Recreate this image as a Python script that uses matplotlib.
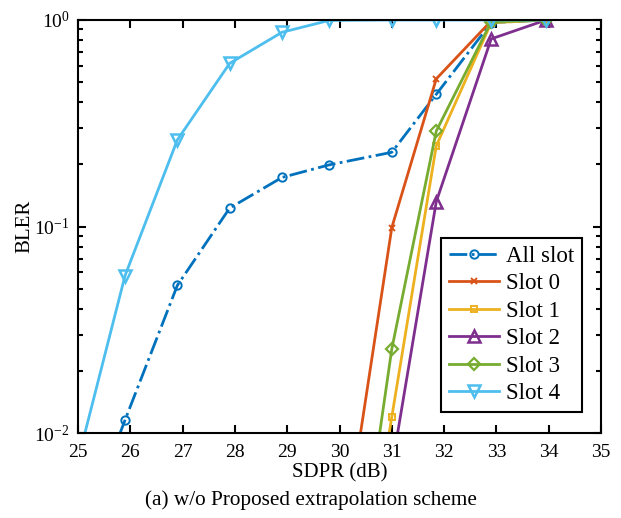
import numpy as np
import matplotlib
matplotlib.use("Agg")
import matplotlib.pyplot as plt
from matplotlib.ticker import LogLocator, NullFormatter

plt.rcParams["font.family"] = ["Liberation Serif", "DejaVu Serif"]
plt.rcParams["mathtext.fontset"] = "custom"
plt.rcParams["mathtext.rm"] = "Liberation Serif"
plt.rcParams["mathtext.it"] = "Liberation Serif:italic"

# SDPR points (dB); first point sits left of the visible range
sdpr_all = [24.9, 25.9, 26.9, 27.9, 28.9, 29.8, 31.0, 31.85, 32.9, 33.95]
bler_all = [0.0025, 0.0116, 0.052, 0.123, 0.173, 0.199, 0.229, 0.437, 0.97, 1.0]

sdpr_slot = [29.8, 31.0, 31.85, 32.9, 33.95]
bler_slot0 = [0.001, 0.099, 0.519, 0.99, 1.0]
bler_slot1 = [0.00017, 0.012, 0.246, 0.97, 1.0]
bler_slot2 = [0.00005, 0.0068, 0.132, 0.81, 1.0]
bler_slot3 = [0.0002, 0.0256, 0.290, 0.98, 1.0]

sdpr_slot4 = [24.9, 25.9, 26.9, 27.9, 28.9, 29.8, 31.0, 31.85, 32.9, 33.95]
bler_slot4 = [0.0059, 0.058, 0.263, 0.617, 0.872, 0.995, 1.0, 1.0, 1.0, 1.0]

fig = plt.figure(figsize=(6.21, 5.18), dpi=100)
ax = fig.add_axes([0.1256, 0.1635, 0.8422, 0.7979])

lw = 2.0
ax.plot(sdpr_all, bler_all, "-.o", color="#0072BD", lw=lw, ms=6, mew=1.4, mfc="none", label="All slot")
ax.plot(sdpr_slot, bler_slot0, "-x", color="#D95319", lw=lw, ms=5, mew=1.4, label="Slot 0")
ax.plot(sdpr_slot, bler_slot1, "-s", color="#EDB120", lw=lw, ms=5, mew=1.4, mfc="none", label="Slot 1")
ax.plot(sdpr_slot, bler_slot2, "-^", color="#7E2F8E", lw=lw, ms=8, mew=1.8, mfc="none", label="Slot 2")
ax.plot(sdpr_slot, bler_slot3, "-D", color="#77AC30", lw=lw, ms=6, mew=1.6, mfc="none", label="Slot 3")
ax.plot(sdpr_slot4, bler_slot4, "-v", color="#4DBEEE", lw=lw, ms=8, mew=1.8, mfc="none", label="Slot 4")

ax.set_yscale("log")
ax.set_xlim(25, 35)
ax.set_ylim(1e-2, 1)
ax.set_xticks(np.arange(25, 36, 1))
ax.yaxis.set_major_locator(LogLocator(base=10, numticks=5))
ax.yaxis.set_minor_locator(LogLocator(base=10, subs=np.arange(2, 10), numticks=10))
ax.yaxis.set_minor_formatter(NullFormatter())

ax.tick_params(which="both", direction="in", top=True, right=True, labelsize=14, width=1.5)
ax.tick_params(which="major", length=6, pad=6)
ax.tick_params(axis="x", which="major", pad=8)
ax.tick_params(which="minor", length=3.5)
for s in ax.spines.values():
    s.set_linewidth(1.5)

ax.set_xlabel("SDPR (dB)", fontsize=15, labelpad=1)
ax.set_ylabel("BLER", fontsize=15, labelpad=0)

leg = ax.legend(loc="lower right", bbox_to_anchor=(0.964, 0.0515), borderaxespad=0,
                fontsize=16.5, fancybox=False, edgecolor="black", framealpha=1,
                handlelength=2.2, handletextpad=0.3, borderpad=0.35, labelspacing=0.28)
leg.get_frame().set_linewidth(1.5)

fig.text(0.5, 0.035, "(a) w/o Proposed extrapolation scheme", ha="center", va="center", fontsize=15.3)

fig.savefig("out.png", dpi=100)
